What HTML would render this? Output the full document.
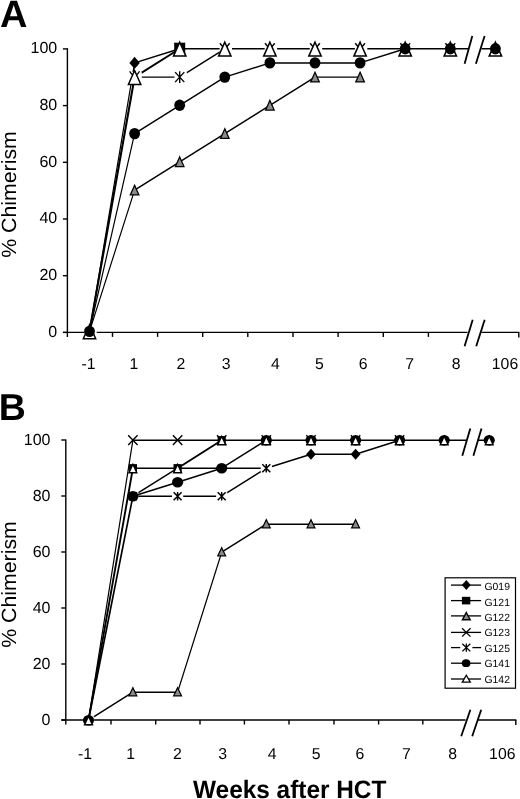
<!DOCTYPE html>
<html><head><meta charset="utf-8"><title>Chimerism</title>
<style>html,body{margin:0;padding:0;background:#fff;}body{width:520px;height:799px;overflow:hidden;font-family:"Liberation Sans",sans-serif;}svg{display:block;will-change:transform;}text{font-family:"Liberation Sans",sans-serif;fill:#000;text-rendering:geometricPrecision;}</style>
</head><body>
<svg width="520" height="799" viewBox="0 0 520 799">
<rect width="520" height="799" fill="#fff"/>
<text x="0" y="27.1" font-size="38" font-weight="bold">A</text>
<text x="-1.3" y="419.8" font-size="37.5" font-weight="bold">B</text>
<text transform="translate(16.1 257.8) rotate(-90)" font-size="20.6" textLength="126.6" lengthAdjust="spacingAndGlyphs">% Chimerism</text>
<text transform="translate(16.1 647.8) rotate(-90)" font-size="20.6" textLength="126.6" lengthAdjust="spacingAndGlyphs">% Chimerism</text>
<text x="193" y="797.5" font-size="25.2" font-weight="bold" textLength="193.4" lengthAdjust="spacingAndGlyphs">Weeks after HCT</text>
<path d="M67.4 48.3L67.4 336.9" stroke="#000" stroke-width="1.4"/>
<path d="M62.900000000000006 332.4L519.4 332.4" stroke="#000" stroke-width="1.4"/>
<path d="M62.900000000000006 332.4L67.4 332.4" stroke="#000" stroke-width="1.4"/>
<text x="57.2" y="336.6" text-anchor="end" font-size="16">0</text>
<path d="M62.900000000000006 275.7L67.4 275.7" stroke="#000" stroke-width="1.4"/>
<text x="57.2" y="279.9" text-anchor="end" font-size="16">20</text>
<path d="M62.900000000000006 219.0L67.4 219.0" stroke="#000" stroke-width="1.4"/>
<text x="57.2" y="223.2" text-anchor="end" font-size="16">40</text>
<path d="M62.900000000000006 162.3L67.4 162.3" stroke="#000" stroke-width="1.4"/>
<text x="57.2" y="166.5" text-anchor="end" font-size="16">60</text>
<path d="M62.900000000000006 105.6L67.4 105.6" stroke="#000" stroke-width="1.4"/>
<text x="57.2" y="109.8" text-anchor="end" font-size="16">80</text>
<path d="M62.900000000000006 48.9L67.4 48.9" stroke="#000" stroke-width="1.4"/>
<text x="57.2" y="53.1" text-anchor="end" font-size="16">100</text>
<path d="M112.5 332.4L112.5 336.9" stroke="#000" stroke-width="1.4"/>
<path d="M157.6 332.4L157.6 336.9" stroke="#000" stroke-width="1.4"/>
<path d="M202.7 332.4L202.7 336.9" stroke="#000" stroke-width="1.4"/>
<path d="M247.8 332.4L247.8 336.9" stroke="#000" stroke-width="1.4"/>
<path d="M293.0 332.4L293.0 336.9" stroke="#000" stroke-width="1.4"/>
<path d="M338.1 332.4L338.1 336.9" stroke="#000" stroke-width="1.4"/>
<path d="M383.3 332.4L383.3 336.9" stroke="#000" stroke-width="1.4"/>
<path d="M428.4 332.4L428.4 336.9" stroke="#000" stroke-width="1.4"/>
<path d="M518.8 332.4L518.8 337.4" stroke="#000" stroke-width="1.4"/>
<text x="88.6" y="368.8" text-anchor="middle" font-size="15.8">-1</text>
<text x="133.8" y="368.8" text-anchor="middle" font-size="15.8">1</text>
<text x="180.8" y="368.8" text-anchor="middle" font-size="15.8">2</text>
<text x="226.1" y="368.8" text-anchor="middle" font-size="15.8">3</text>
<text x="275.5" y="368.8" text-anchor="middle" font-size="15.8">4</text>
<text x="319.5" y="368.8" text-anchor="middle" font-size="15.8">5</text>
<text x="363.1" y="368.8" text-anchor="middle" font-size="15.8">6</text>
<text x="409.6" y="368.8" text-anchor="middle" font-size="15.8">7</text>
<text x="456.1" y="368.8" text-anchor="middle" font-size="15.8">8</text>
<text x="505.0" y="368.8" text-anchor="middle" font-size="15.8">106</text>
<path d="M89.5 331.4L134.6 62.9" fill="none" stroke="#000" stroke-width="1.2" stroke-linejoin="round" stroke-linecap="round"/>
<path d="M134.6 62.9L179.7 48.8" fill="none" stroke="#000" stroke-width="1.45" stroke-linejoin="round" stroke-linecap="round"/>
<path d="M134.6 56.7L139.8 62.9L134.6 69.1L129.4 62.9Z" fill="#000"/>
<path d="M179.7 42.6L184.9 48.8L179.7 55.0L174.5 48.8Z" fill="#000"/>
<path d="M224.8 42.6L230.0 48.8L224.8 55.0L219.6 48.8Z" fill="#000"/>
<path d="M269.9 42.6L275.1 48.8L269.9 55.0L264.7 48.8Z" fill="#000"/>
<path d="M315.0 42.6L320.2 48.8L315.0 55.0L309.8 48.8Z" fill="#000"/>
<path d="M360.1 42.6L365.3 48.8L360.1 55.0L354.9 48.8Z" fill="#000"/>
<path d="M405.2 42.6L410.4 48.8L405.2 55.0L400.0 48.8Z" fill="#000"/>
<path d="M450.3 42.6L455.5 48.8L450.3 55.0L445.1 48.8Z" fill="#000"/>
<path d="M495.4 42.6L500.6 48.8L495.4 55.0L490.2 48.8Z" fill="#000"/>


<rect x="174.2" y="42.7" width="11.0" height="12.2" fill="#000"/>
<path d="M89.5 331.4L134.6 190.1" fill="none" stroke="#000" stroke-width="1.2" stroke-linejoin="round" stroke-linecap="round"/>
<path d="M134.6 190.1L179.7 161.8L224.8 133.6L269.9 105.3L315.0 77.1L360.1 77.1" fill="none" stroke="#000" stroke-width="1.45" stroke-linejoin="round" stroke-linecap="round"/>
<path d="M89.5 326.5L93.8 336.2L85.2 336.2Z" fill="#8a8a8a" stroke="#000" stroke-width="1.25" stroke-linejoin="miter"/>
<path d="M134.6 185.2L138.9 194.9L130.3 194.9Z" fill="#8a8a8a" stroke="#000" stroke-width="1.25" stroke-linejoin="miter"/>
<path d="M179.7 156.9L184.0 166.6L175.4 166.6Z" fill="#8a8a8a" stroke="#000" stroke-width="1.25" stroke-linejoin="miter"/>
<path d="M224.8 128.7L229.1 138.4L220.5 138.4Z" fill="#8a8a8a" stroke="#000" stroke-width="1.25" stroke-linejoin="miter"/>
<path d="M269.9 100.4L274.2 110.1L265.6 110.1Z" fill="#8a8a8a" stroke="#000" stroke-width="1.25" stroke-linejoin="miter"/>
<path d="M315.0 72.2L319.3 81.9L310.7 81.9Z" fill="#8a8a8a" stroke="#000" stroke-width="1.25" stroke-linejoin="miter"/>
<path d="M360.1 72.2L364.4 81.9L355.8 81.9Z" fill="#8a8a8a" stroke="#000" stroke-width="1.25" stroke-linejoin="miter"/>
<path d="M129.6 71.4L139.6 82.8M129.6 82.8L139.6 71.4" stroke="#000" stroke-width="1.3" fill="none"/>
<path d="M174.7 43.1L184.7 54.5M174.7 54.5L184.7 43.1" stroke="#000" stroke-width="1.3" fill="none"/>
<path d="M219.8 43.1L229.8 54.5M219.8 54.5L229.8 43.1" stroke="#000" stroke-width="1.3" fill="none"/>
<path d="M264.9 43.1L274.9 54.5M264.9 54.5L274.9 43.1" stroke="#000" stroke-width="1.3" fill="none"/>
<path d="M310.0 43.1L320.0 54.5M310.0 54.5L320.0 43.1" stroke="#000" stroke-width="1.3" fill="none"/>
<path d="M355.1 43.1L365.1 54.5M355.1 54.5L365.1 43.1" stroke="#000" stroke-width="1.3" fill="none"/>
<path d="M400.2 43.1L410.2 54.5M400.2 54.5L410.2 43.1" stroke="#000" stroke-width="1.3" fill="none"/>
<path d="M445.3 43.1L455.3 54.5M445.3 54.5L455.3 43.1" stroke="#000" stroke-width="1.3" fill="none"/>
<path d="M134.6 77.1L179.7 48.8" fill="none" stroke="#000" stroke-width="1.89" stroke-linejoin="round" stroke-linecap="round"/>
<path d="M179.7 48.8L224.8 48.8" fill="none" stroke="#000" stroke-width="1.55" stroke-linejoin="round" stroke-linecap="round"/>
<path d="M89.5 331.4L134.6 77.1" fill="none" stroke="#000" stroke-width="2.1" stroke-linejoin="round" stroke-linecap="round"/>
<path d="M134.6 77.1L179.7 77.1L224.8 48.8" fill="none" stroke="#000" stroke-width="1.45" stroke-linejoin="round" stroke-linecap="round"/>
<path d="M224.8 48.8L269.9 48.8L315.0 48.8L360.1 48.8L405.2 48.8" fill="none" stroke="#000" stroke-width="1.6" stroke-linejoin="round" stroke-linecap="round"/>
<rect x="84.3" y="326.4" width="12.4" height="10.0" fill="#fff"/>
<rect x="129.4" y="72.1" width="12.4" height="10.0" fill="#fff"/><path d="M130.0 72.1L139.2 82.1M130.0 82.1L139.2 72.1M134.6 71.3L134.6 82.9" stroke="#000" stroke-width="1.4" fill="none"/>
<rect x="174.5" y="72.1" width="12.4" height="10.0" fill="#fff"/><path d="M175.1 72.1L184.3 82.1M175.1 82.1L184.3 72.1M179.7 71.3L179.7 82.9" stroke="#000" stroke-width="1.4" fill="none"/>
<rect x="219.6" y="43.8" width="12.4" height="10.0" fill="#fff"/><path d="M220.2 43.8L229.4 53.8M220.2 53.8L229.4 43.8M224.8 43.0L224.8 54.6" stroke="#000" stroke-width="1.4" fill="none"/>
<rect x="264.7" y="43.8" width="12.4" height="10.0" fill="#fff"/><path d="M265.3 43.8L274.5 53.8M265.3 53.8L274.5 43.8M269.9 43.0L269.9 54.6" stroke="#000" stroke-width="1.4" fill="none"/>
<rect x="309.8" y="43.8" width="12.4" height="10.0" fill="#fff"/><path d="M310.4 43.8L319.6 53.8M310.4 53.8L319.6 43.8M315.0 43.0L315.0 54.6" stroke="#000" stroke-width="1.4" fill="none"/>
<rect x="354.9" y="43.8" width="12.4" height="10.0" fill="#fff"/><path d="M355.5 43.8L364.7 53.8M355.5 53.8L364.7 43.8M360.1 43.0L360.1 54.6" stroke="#000" stroke-width="1.4" fill="none"/>
<rect x="400.0" y="43.8" width="12.4" height="10.0" fill="#fff"/><path d="M400.6 43.8L409.8 53.8M400.6 53.8L409.8 43.8M405.2 43.0L405.2 54.6" stroke="#000" stroke-width="1.4" fill="none"/>
<rect x="445.1" y="43.8" width="12.4" height="10.0" fill="#fff"/><path d="M445.7 43.8L454.9 53.8M445.7 53.8L454.9 43.8M450.3 43.0L450.3 54.6" stroke="#000" stroke-width="1.4" fill="none"/>
<path d="M89.5 324.8L95.7 338.7L83.3 338.7Z" fill="#fff" stroke="#000" stroke-width="1.5" stroke-linejoin="miter"/>
<path d="M134.6 70.5L140.8 84.4L128.4 84.4Z" fill="#fff" stroke="#000" stroke-width="1.5" stroke-linejoin="miter"/>
<path d="M179.7 42.2L185.9 56.1L173.5 56.1Z" fill="#fff" stroke="#000" stroke-width="1.5" stroke-linejoin="miter"/>
<path d="M224.8 42.2L231.0 56.1L218.6 56.1Z" fill="#fff" stroke="#000" stroke-width="1.5" stroke-linejoin="miter"/>
<path d="M269.9 42.2L276.1 56.1L263.7 56.1Z" fill="#fff" stroke="#000" stroke-width="1.5" stroke-linejoin="miter"/>
<path d="M315.0 42.2L321.2 56.1L308.8 56.1Z" fill="#fff" stroke="#000" stroke-width="1.5" stroke-linejoin="miter"/>
<path d="M360.1 42.2L366.3 56.1L353.9 56.1Z" fill="#fff" stroke="#000" stroke-width="1.5" stroke-linejoin="miter"/>
<path d="M405.2 42.2L411.4 56.1L399.0 56.1Z" fill="#fff" stroke="#000" stroke-width="1.5" stroke-linejoin="miter"/>
<path d="M450.3 42.2L456.5 56.1L444.1 56.1Z" fill="#fff" stroke="#000" stroke-width="1.5" stroke-linejoin="miter"/>
<path d="M495.4 42.2L501.6 56.1L489.2 56.1Z" fill="#fff" stroke="#000" stroke-width="1.5" stroke-linejoin="miter"/>
<path d="M89.5 331.4L134.6 133.6" fill="none" stroke="#000" stroke-width="1.2" stroke-linejoin="round" stroke-linecap="round"/>
<path d="M134.6 133.6L179.7 105.3L224.8 77.1L269.9 62.9L315.0 62.9L360.1 62.9L405.2 48.8" fill="none" stroke="#000" stroke-width="1.45" stroke-linejoin="round" stroke-linecap="round"/>
<path d="M405.2 48.8L450.3 48.8" fill="none" stroke="#000" stroke-width="1.6" stroke-linejoin="round" stroke-linecap="round"/>
<path d="M450.3 48.8L495.4 48.8" fill="none" stroke="#000" stroke-width="1.55" stroke-linejoin="round" stroke-linecap="round"/>
<ellipse cx="89.5" cy="331.4" rx="5.4" ry="5.7" fill="#000"/>
<ellipse cx="134.6" cy="133.6" rx="5.4" ry="5.7" fill="#000"/>
<ellipse cx="179.7" cy="105.3" rx="5.4" ry="5.7" fill="#000"/>
<ellipse cx="224.8" cy="77.1" rx="5.4" ry="5.7" fill="#000"/>
<ellipse cx="269.9" cy="62.9" rx="5.4" ry="5.7" fill="#000"/>
<ellipse cx="315.0" cy="62.9" rx="5.4" ry="5.7" fill="#000"/>
<ellipse cx="360.1" cy="62.9" rx="5.4" ry="5.7" fill="#000"/>
<ellipse cx="405.2" cy="48.8" rx="5.4" ry="5.7" fill="#000"/>
<ellipse cx="450.3" cy="48.8" rx="5.4" ry="5.7" fill="#000"/>
<ellipse cx="495.4" cy="48.8" rx="5.4" ry="5.7" fill="#000"/>
<rect x="467.5" y="329.4" width="14.0" height="6" fill="#fff"/>
<path d="M472.7 319.7L464.6 346.2" stroke="#000" stroke-width="1.8"/>
<path d="M484.7 319.7L476.2 346.2" stroke="#000" stroke-width="1.8"/>
<rect x="468.5" y="45.9" width="13.0" height="6" fill="#fff"/>
<path d="M472.3 36.0L464.6 63.8" stroke="#000" stroke-width="1.8"/>
<path d="M484.6 36.0L475.9 63.8" stroke="#000" stroke-width="1.8"/>
<path d="M65.8 439.4L65.8 724.5" stroke="#000" stroke-width="1.4"/>
<path d="M61.3 720.0L516.4 720.0" stroke="#000" stroke-width="1.4"/>
<path d="M61.3 720.0L65.8 720.0" stroke="#000" stroke-width="1.4"/>
<text x="50.5" y="725.1" text-anchor="end" font-size="16">0</text>
<path d="M61.3 664.0L65.8 664.0" stroke="#000" stroke-width="1.4"/>
<text x="50.5" y="669.1" text-anchor="end" font-size="16">20</text>
<path d="M61.3 608.0L65.8 608.0" stroke="#000" stroke-width="1.4"/>
<text x="50.5" y="613.1" text-anchor="end" font-size="16">40</text>
<path d="M61.3 552.0L65.8 552.0" stroke="#000" stroke-width="1.4"/>
<text x="50.5" y="557.1" text-anchor="end" font-size="16">60</text>
<path d="M61.3 496.0L65.8 496.0" stroke="#000" stroke-width="1.4"/>
<text x="50.5" y="501.1" text-anchor="end" font-size="16">80</text>
<path d="M61.3 440.0L65.8 440.0" stroke="#000" stroke-width="1.4"/>
<text x="50.5" y="445.1" text-anchor="end" font-size="16">100</text>
<path d="M111.0 720.0L111.0 724.5" stroke="#000" stroke-width="1.4"/>
<path d="M155.7 720.0L155.7 724.5" stroke="#000" stroke-width="1.4"/>
<path d="M200.0 720.0L200.0 724.5" stroke="#000" stroke-width="1.4"/>
<path d="M244.4 720.0L244.4 724.5" stroke="#000" stroke-width="1.4"/>
<path d="M289.0 720.0L289.0 724.5" stroke="#000" stroke-width="1.4"/>
<path d="M334.0 720.0L334.0 724.5" stroke="#000" stroke-width="1.4"/>
<path d="M378.6 720.0L378.6 724.5" stroke="#000" stroke-width="1.4"/>
<path d="M422.8 720.0L422.8 724.5" stroke="#000" stroke-width="1.4"/>
<path d="M515.8 720.0L515.8 725.0" stroke="#000" stroke-width="1.4"/>
<text x="85.1" y="758.5" text-anchor="middle" font-size="15.8">-1</text>
<text x="130.7" y="758.5" text-anchor="middle" font-size="15.8">1</text>
<text x="177.4" y="758.5" text-anchor="middle" font-size="15.8">2</text>
<text x="222.6" y="758.5" text-anchor="middle" font-size="15.8">3</text>
<text x="272.1" y="758.5" text-anchor="middle" font-size="15.8">4</text>
<text x="316.1" y="758.5" text-anchor="middle" font-size="15.8">5</text>
<text x="360.0" y="758.5" text-anchor="middle" font-size="15.8">6</text>
<text x="406.5" y="758.5" text-anchor="middle" font-size="15.8">7</text>
<text x="452.6" y="758.5" text-anchor="middle" font-size="15.8">8</text>
<text x="502.3" y="758.5" text-anchor="middle" font-size="15.8">106</text>
<path d="M177.6 468.2L221.7 468.2L266.3 468.2L311.0 454.2L355.6 454.2L399.6 440.2" fill="none" stroke="#000" stroke-width="1.45" stroke-linejoin="round" stroke-linecap="round"/>
<path d="M311.0 448.7L315.9 454.2L311.0 459.7L306.1 454.2Z" fill="#000"/>
<path d="M355.6 448.7L360.5 454.2L355.6 459.7L350.7 454.2Z" fill="#000"/>
<path d="M399.6 434.7L404.5 440.2L399.6 445.7L394.7 440.2Z" fill="#000"/>
<path d="M444.2 434.7L449.1 440.2L444.2 445.7L439.3 440.2Z" fill="#000"/>
<path d="M489.2 434.7L494.1 440.2L489.2 445.7L484.3 440.2Z" fill="#000"/>
<path d="M132.9 496.2L177.6 468.2" fill="none" stroke="#000" stroke-width="1.45" stroke-linejoin="round" stroke-linecap="round"/>
<rect x="128.8" y="464.1" width="8.2" height="8.2" fill="#000"/>
<rect x="173.5" y="464.1" width="8.2" height="8.2" fill="#000"/>
<rect x="217.6" y="436.1" width="8.2" height="8.2" fill="#000"/>
<rect x="262.2" y="436.1" width="8.2" height="8.2" fill="#000"/>
<path d="M88.5 720.2L132.9 692.2L177.6 692.2M221.7 552.2L266.3 524.2L311.0 524.2L355.6 524.2" fill="none" stroke="#000" stroke-width="1.45" stroke-linejoin="round" stroke-linecap="round"/>
<path d="M177.6 692.2L221.7 552.2" fill="none" stroke="#000" stroke-width="1.2" stroke-linejoin="round" stroke-linecap="round"/>
<path d="M88.5 715.8L92.4 723.8L84.6 723.8Z" fill="#8a8a8a" stroke="#000" stroke-width="1.25" stroke-linejoin="miter"/>
<path d="M132.9 687.8L136.8 695.8L129.0 695.8Z" fill="#8a8a8a" stroke="#000" stroke-width="1.25" stroke-linejoin="miter"/>
<path d="M177.6 687.8L181.5 695.8L173.7 695.8Z" fill="#8a8a8a" stroke="#000" stroke-width="1.25" stroke-linejoin="miter"/>
<path d="M221.7 547.8L225.6 555.8L217.8 555.8Z" fill="#8a8a8a" stroke="#000" stroke-width="1.25" stroke-linejoin="miter"/>
<path d="M266.3 519.8L270.2 527.8L262.4 527.8Z" fill="#8a8a8a" stroke="#000" stroke-width="1.25" stroke-linejoin="miter"/>
<path d="M311.0 519.8L314.9 527.8L307.1 527.8Z" fill="#8a8a8a" stroke="#000" stroke-width="1.25" stroke-linejoin="miter"/>
<path d="M355.6 519.8L359.5 527.8L351.7 527.8Z" fill="#8a8a8a" stroke="#000" stroke-width="1.25" stroke-linejoin="miter"/>
<path d="M88.5 720.2L132.9 440.2" fill="none" stroke="#000" stroke-width="1.2" stroke-linejoin="round" stroke-linecap="round"/>
<path d="M132.9 440.2L177.6 440.2L221.7 440.2" fill="none" stroke="#000" stroke-width="1.45" stroke-linejoin="round" stroke-linecap="round"/>
<path d="M128.2 435.3L137.6 445.1M128.2 445.1L137.6 435.3" stroke="#000" stroke-width="1.4" fill="none"/>
<path d="M172.9 435.3L182.3 445.1M172.9 445.1L182.3 435.3" stroke="#000" stroke-width="1.4" fill="none"/>
<path d="M217.0 435.3L226.4 445.1M217.0 445.1L226.4 435.3" stroke="#000" stroke-width="1.4" fill="none"/>
<path d="M261.6 435.3L271.0 445.1M261.6 445.1L271.0 435.3" stroke="#000" stroke-width="1.4" fill="none"/>
<path d="M306.3 435.3L315.7 445.1M306.3 445.1L315.7 435.3" stroke="#000" stroke-width="1.4" fill="none"/>
<path d="M350.9 435.3L360.3 445.1M350.9 445.1L360.3 435.3" stroke="#000" stroke-width="1.4" fill="none"/>
<path d="M394.9 435.3L404.3 445.1M394.9 445.1L404.3 435.3" stroke="#000" stroke-width="1.4" fill="none"/>
<path d="M132.9 496.2L177.6 496.2L221.7 496.2L266.3 468.2" fill="none" stroke="#000" stroke-width="1.45" stroke-linejoin="round" stroke-linecap="round"/>
<rect x="82.9" y="716.2" width="11.2" height="8.0" fill="#fff"/>
<rect x="127.3" y="492.2" width="11.2" height="8.0" fill="#fff"/><path d="M128.9 492.2L136.9 500.2M128.9 500.2L136.9 492.2M132.9 491.9L132.9 500.5" stroke="#000" stroke-width="1.5" fill="none"/>
<rect x="172.0" y="492.2" width="11.2" height="8.0" fill="#fff"/><path d="M173.6 492.2L181.6 500.2M173.6 500.2L181.6 492.2M177.6 491.9L177.6 500.5" stroke="#000" stroke-width="1.5" fill="none"/>
<rect x="216.1" y="492.2" width="11.2" height="8.0" fill="#fff"/><path d="M217.7 492.2L225.7 500.2M217.7 500.2L225.7 492.2M221.7 491.9L221.7 500.5" stroke="#000" stroke-width="1.5" fill="none"/>
<rect x="260.7" y="464.2" width="11.2" height="8.0" fill="#fff"/><path d="M262.3 464.2L270.3 472.2M262.3 472.2L270.3 464.2M266.3 463.9L266.3 472.5" stroke="#000" stroke-width="1.5" fill="none"/>
<path d="M88.5 720.2L132.9 496.2" fill="none" stroke="#000" stroke-width="1.67" stroke-linejoin="round" stroke-linecap="round"/>
<path d="M132.9 496.2L177.6 482.2L221.7 468.2L266.3 440.2" fill="none" stroke="#000" stroke-width="1.45" stroke-linejoin="round" stroke-linecap="round"/>
<ellipse cx="88.5" cy="720.2" rx="5.6" ry="5.3" fill="#000"/>
<ellipse cx="132.9" cy="496.2" rx="5.6" ry="5.3" fill="#000"/>
<ellipse cx="177.6" cy="482.2" rx="5.6" ry="5.3" fill="#000"/>
<ellipse cx="221.7" cy="468.2" rx="5.6" ry="5.3" fill="#000"/>
<ellipse cx="266.3" cy="440.2" rx="5.6" ry="5.3" fill="#000"/>
<ellipse cx="311.0" cy="440.2" rx="5.6" ry="5.3" fill="#000"/>
<ellipse cx="355.6" cy="440.2" rx="5.6" ry="5.3" fill="#000"/>
<ellipse cx="399.6" cy="440.2" rx="5.6" ry="5.3" fill="#000"/>
<ellipse cx="444.2" cy="440.2" rx="5.6" ry="5.3" fill="#000"/>
<ellipse cx="489.2" cy="440.2" rx="5.6" ry="5.3" fill="#000"/>
<path d="M88.5 720.2L132.9 468.2M177.6 468.2L221.7 440.2" fill="none" stroke="#000" stroke-width="1.89" stroke-linejoin="round" stroke-linecap="round"/>
<path d="M132.9 468.2L177.6 468.2M221.7 440.2L266.3 440.2L311.0 440.2L355.6 440.2L399.6 440.2L444.2 440.2L489.2 440.2" fill="none" stroke="#000" stroke-width="1.55" stroke-linejoin="round" stroke-linecap="round"/>
<path d="M88.5 716.3L92.4 724.7L84.6 724.7Z" fill="#fff" stroke="#000" stroke-width="1.4" stroke-linejoin="miter"/>
<path d="M132.9 464.3L136.8 472.7L129.0 472.7Z" fill="#fff" stroke="#000" stroke-width="1.4" stroke-linejoin="miter"/>
<path d="M177.6 464.3L181.5 472.7L173.7 472.7Z" fill="#fff" stroke="#000" stroke-width="1.4" stroke-linejoin="miter"/>
<path d="M221.7 436.3L225.6 444.7L217.8 444.7Z" fill="#fff" stroke="#000" stroke-width="1.4" stroke-linejoin="miter"/>
<path d="M266.3 436.3L270.2 444.7L262.4 444.7Z" fill="#fff" stroke="#000" stroke-width="1.4" stroke-linejoin="miter"/>
<path d="M311.0 436.3L314.9 444.7L307.1 444.7Z" fill="#fff" stroke="#000" stroke-width="1.4" stroke-linejoin="miter"/>
<path d="M355.6 436.3L359.5 444.7L351.7 444.7Z" fill="#fff" stroke="#000" stroke-width="1.4" stroke-linejoin="miter"/>
<path d="M399.6 436.3L403.5 444.7L395.7 444.7Z" fill="#fff" stroke="#000" stroke-width="1.4" stroke-linejoin="miter"/>
<path d="M444.2 436.3L448.1 444.7L440.3 444.7Z" fill="#fff" stroke="#000" stroke-width="1.4" stroke-linejoin="miter"/>
<path d="M489.2 436.3L493.1 444.7L485.3 444.7Z" fill="#fff" stroke="#000" stroke-width="1.4" stroke-linejoin="miter"/>
<rect x="465.5" y="717.0" width="12.0" height="6" fill="#fff"/>
<path d="M470.4 709.7L461.2 736.2" stroke="#000" stroke-width="1.8"/>
<path d="M481.2 709.7L472.2 736.2" stroke="#000" stroke-width="1.8"/>
<rect x="466.0" y="437.0" width="11.5" height="6" fill="#fff"/>
<path d="M470.3 428.5L462.3 455.8" stroke="#000" stroke-width="1.8"/>
<path d="M481.5 428.5L473.4 455.8" stroke="#000" stroke-width="1.8"/>
<rect x="445.1" y="577.8" width="70.4" height="110.4" fill="#fff" stroke="#000" stroke-width="1.2"/>
<path d="M451 585.1L481.1 585.1" stroke="#000" stroke-width="1.3"/>
<path d="M466.3 580.1L470.7 585.1L466.3 590.1L461.9 585.1Z" fill="#000"/>
<text x="484.5" y="590.2" font-size="10.4">G019</text>
<path d="M451 600.6L481.1 600.6" stroke="#000" stroke-width="1.3"/>
<rect x="461.9" y="596.8" width="8.4" height="7.6" fill="#000"/>
<text x="484.5" y="605.6" font-size="10.4">G121</text>
<path d="M451 615.9L481.1 615.9" stroke="#000" stroke-width="1.3"/>
<path d="M466.3 612.5L470.2 619.8L462.4 619.8Z" fill="#8a8a8a" stroke="#000" stroke-width="1.4" stroke-linejoin="miter"/>
<text x="484.5" y="621.0" font-size="10.4">G122</text>
<path d="M451 632.4L481.1 632.4" stroke="#000" stroke-width="1.3"/>
<path d="M462.1 628.2L470.5 636.6M462.1 636.6L470.5 628.2" stroke="#000" stroke-width="1.3" fill="none"/>
<text x="484.5" y="636.4" font-size="10.4">G123</text>
<path d="M451 647.6L481.1 647.6" stroke="#000" stroke-width="1.3"/>
<rect x="460.2" y="643.8" width="12.2" height="7.6" fill="#fff"/><path d="M462.3 643.8L470.3 651.4M462.3 651.4L470.3 643.8M466.3 643.4L466.3 651.8" stroke="#000" stroke-width="1.3" fill="none"/>
<text x="484.5" y="651.8" font-size="10.4">G125</text>
<path d="M451 663.2L481.1 663.2" stroke="#000" stroke-width="1.3"/>
<ellipse cx="466.1" cy="663.2" rx="4.3" ry="3.9" fill="#000"/>
<text x="484.5" y="667.2" font-size="10.4">G141</text>
<path d="M451 679.0L481.1 679.0" stroke="#000" stroke-width="1.3"/>
<path d="M466.3 675.2L470.3 682.2L462.3 682.2Z" fill="#fff" stroke="#000" stroke-width="1.3" stroke-linejoin="miter"/>
<text x="484.5" y="682.6" font-size="10.4">G142</text>
</svg></body></html>
